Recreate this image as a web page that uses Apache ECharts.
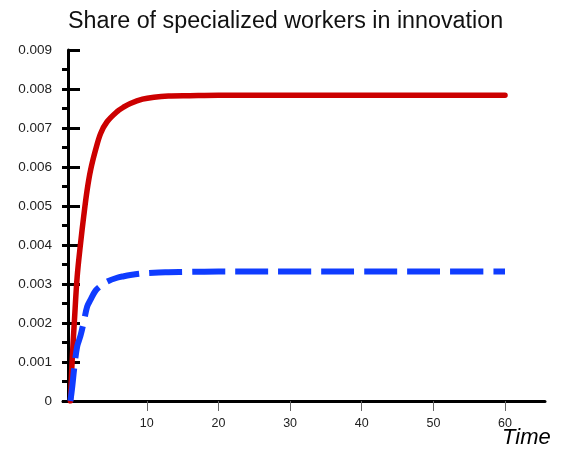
<!DOCTYPE html>
<html>
<head>
<meta charset="utf-8">
<script src="https://cdn.jsdelivr.net/npm/echarts@6/dist/echarts.min.js"></script>
<style>
html,body{margin:0;padding:0;background:#fff;}
#chart{width:566px;height:452px;}
</style>
</head>
<body>
<div id="chart"></div>
<script>
var titleText = 'Share of specialized workers in innovation';
var xName = 'Time';
var time = [-0.66, -0.42, -0.1, 0.28, 0.75, 1.2, 1.67, 2.15, 2.85, 3.55, 4.45, 5.85, 6.8, 7.7, 9.4, 11, 13, 16, 20, 30, 40, 50, 60];
var redShare = [0, 0.00105, 0.00208, 0.00319, 0.00404, 0.00475, 0.00541, 0.00592, 0.00644, 0.00686, 0.00716, 0.00742, 0.00754, 0.00763, 0.00774, 0.00779, 0.00782, 0.00783, 0.00784, 0.00784, 0.00784, 0.00784, 0.00784];
var blueShare = [0, 0.00035, 0.0009, 0.0014, 0.00168, 0.00203, 0.00242, 0.0026, 0.00283, 0.00295, 0.00306, 0.00316, 0.0032, 0.00323, 0.00327, 0.00329, 0.0033, 0.00331, 0.00332, 0.00332, 0.00332, 0.00332, 0.00332];
var xTicks = [10, 20, 30, 40, 50, 60];
var yTicks = [0, 0.001, 0.002, 0.003, 0.004, 0.005, 0.006, 0.007, 0.008, 0.009];
var yMinorTicks = [0, 0.0005, 0.001, 0.0015, 0.002, 0.0025, 0.003, 0.0035, 0.004, 0.0045, 0.005, 0.0055, 0.006, 0.0065, 0.007, 0.0075, 0.008, 0.0085];

function pairs(xs, ys) { return xs.map(function (x, i) { return [x, ys[i]]; }); }

var chart = echarts.init(document.getElementById('chart'), null, {renderer: 'canvas'});
var font = '"Liberation Sans", Arial, sans-serif';
chart.setOption({
  animation: false,
  backgroundColor: '#ffffff',
  title: {
    text: titleText, left: 68, top: 10, padding: 0,
    textStyle: {fontFamily: font, fontSize: 23.3, fontWeight: 'normal', color: '#111', lineHeight: 23}
  },
  grid: {left: 63, right: 21, top: 50, bottom: 51, containLabel: false},
  xAxis: {
    type: 'value', min: -1.70, max: 65.58,
    axisLine: {show: true, onZero: false, lineStyle: {color: '#000', width: 3}},
    axisTick: {show: true, customValues: xTicks, length: 10, inside: false, lineStyle: {color: '#666', width: 1}},
    axisLabel: {show: true, customValues: xTicks, margin: 16, fontFamily: font, fontSize: 12.5, color: '#222'},
    splitLine: {show: false}
  },
  yAxis: [{
    type: 'value', min: 0, max: 0.009, interval: 0.001, position: 'left', offset: -5,
    axisLine: {show: true, onZero: false, lineStyle: {color: '#000', width: 3}},
    axisTick: {show: true, customValues: yTicks, inside: true, length: 12, lineStyle: {color: '#000', width: 3}},
    axisLabel: {show: true, customValues: yTicks, margin: 16, fontFamily: font, fontSize: 13.5, color: '#222',
      formatter: function (v) { return v === 0 ? '0' : v.toFixed(3); }},
    splitLine: {show: false}
  }, {
    type: 'value', min: 0, max: 0.009, position: 'left', offset: -5,
    axisLine: {show: false, onZero: false},
    axisTick: {show: true, customValues: yMinorTicks, inside: false, length: 6, lineStyle: {color: '#000', width: 3}},
    axisLabel: {show: false},
    splitLine: {show: false}
  }],
  graphic: [{
    type: 'text', x: 502, y: 438,
    style: {text: xName, font: 'italic 22px ' + font, fill: '#000', align: 'left', verticalAlign: 'middle'}
  }],
  series: [{
    type: 'line', data: pairs(time, redShare), showSymbol: false, smooth: 0.35,
    lineStyle: {color: '#cc0000', width: 5.5, cap: 'round', join: 'round'}, itemStyle: {color: '#cc0000'}
  }, {
    type: 'line', data: pairs(time, blueShare), showSymbol: false, smooth: 0.35,
    lineStyle: {color: '#0f3cff', width: 6, type: [33, 10]}, itemStyle: {color: '#0f3cff'}
  }]
});
</script>
</body>
</html>
